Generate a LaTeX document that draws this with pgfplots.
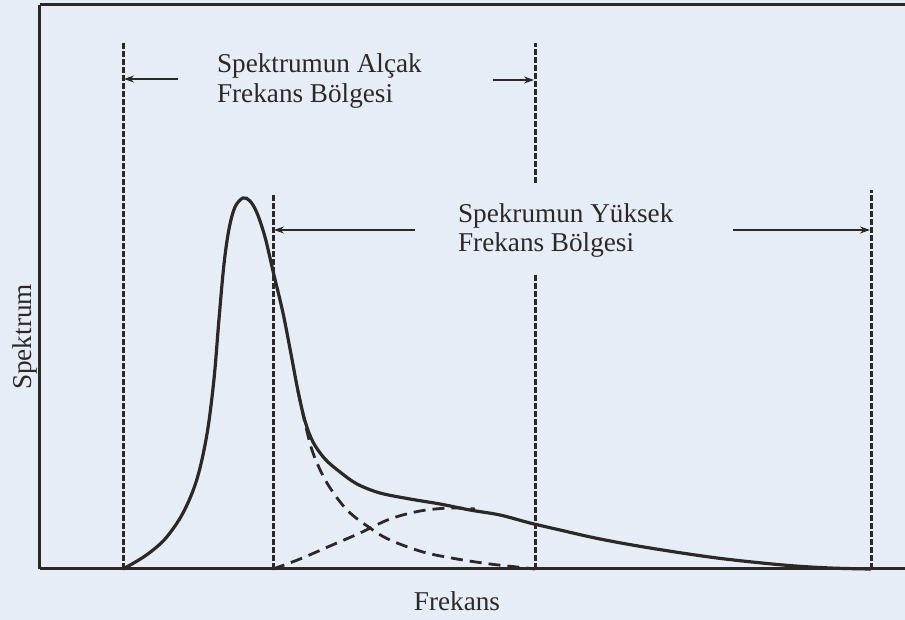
\documentclass[border=0pt]{standalone}
\usepackage{fontspec}
\setmainfont{Liberation Serif}
\usepackage{pgfplots}
\pgfplotsset{compat=1.18}
\usetikzlibrary{arrows.meta}
\definecolor{bgc}{RGB}{231,237,246}
\definecolor{ink}{RGB}{45,40,40}
\begin{document}
\begin{tikzpicture}
\fill[bgc] (-20pt,-25.5pt) rectangle (432.5pt,284.5pt);
\begin{axis}[
  at={(0pt,0pt)}, anchor=south west,
  scale only axis, width=432.5pt, height=282pt,
  xmin=40, xmax=905, ymin=0, ymax=564,
  axis x line*=box, axis y line*=left,
  axis line style={ink, line width=1.5pt},
  xtick=\empty, ytick=\empty,
  clip=false,
  font=\fontsize{13.6}{15}\selectfont,
  vdash/.style={ink, line width=1.5pt, dash pattern=on 3pt off 1pt},
  cdash/.style={ink, line width=1.4pt, dash pattern=on 6pt off 3.5pt},
  arr/.style={ink, line width=0.8pt, -{Stealth[length=5pt,width=3.5pt]}},
]
% vertical region boundaries
\addplot[vdash] coordinates {(123,0) (123,527)};
\addplot[vdash] coordinates {(273,0) (273,374)};
\addplot[vdash] coordinates {(535,386) (535,526)};
\addplot[vdash] coordinates {(535,0) (535,294)};
\addplot[vdash] coordinates {(871,0) (871,379)};
% arrows
\addplot[arr] coordinates {(178,490) (124,490)};
\addplot[arr] coordinates {(493,489) (534,489)};
\addplot[arr] coordinates {(415,339) (274,339)};
\addplot[arr] coordinates {(733,339) (870,339)};
% main spectrum
\addplot[ink, line width=1.6pt, smooth, tension=0.55] coordinates {
(123,0) (145,13) (165,30) (183,56) (197,90) (207,135) (214,190) (219,250)
(224,305) (229,340) (235,362) (243,371) (250,368) (257,356) (265,332)
(273,298) (283,256) (291,215) (298,178) (305,148) (313,127) (325,110)
(340,97) (357,85) (380,76) (410,70) (440,65) (470,59) (500,54) (530,46)
(560,39) (600,30) (650,21) (717,11) (783,4) (830,1) (871,0)};
% low-frequency component
\addplot[cdash, smooth, tension=0.55] coordinates {
(298,178) (305,146) (313,116) (327,86) (347,59) (370,41) (390,29) (423,17)
(457,10) (490,5) (517,2) (535,0)};
% high-frequency component
\addplot[cdash, smooth, tension=0.55] coordinates {
(273,0) (300,10) (330,23) (360,36) (390,50) (420,58) (450,61) (475,60)};
% labels
\node[anchor=base west, ink] at (axis cs:210,496) {Spektrumun Alçak};
\node[anchor=base west, ink] at (axis cs:210,466) {Frekans Bölgesi};
\node[anchor=base west, ink] at (axis cs:451,346) {Spekrumun Yüksek};
\node[anchor=base west, ink] at (axis cs:451,317) {Frekans Bölgesi};
\node[anchor=base, ink] at (axis cs:457,-42) {Frekans};
\node[anchor=base, rotate=90, ink] at (axis cs:32,232) {Spektrum};
\end{axis}
\pgfresetboundingbox
\useasboundingbox (-20pt,-25.5pt) rectangle (432.5pt,284.5pt);
\end{tikzpicture}
\end{document}
